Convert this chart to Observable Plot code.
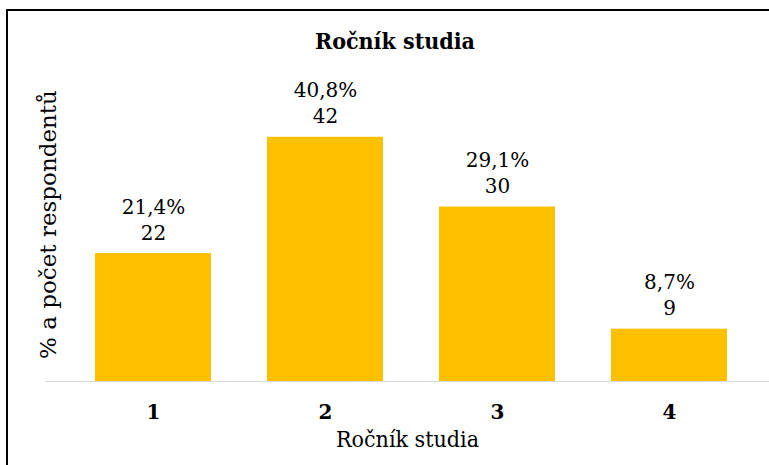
<!DOCTYPE html>
<html>
<head>
<meta charset="utf-8">
<script src="https://cdn.jsdelivr.net/npm/d3@7"></script>
<script src="https://cdn.jsdelivr.net/npm/@observablehq/plot@0.6"></script>
<style>
  html, body { margin: 0; padding: 0; background: #fff; width: 769px; height: 465px; overflow: hidden; }
  #wrap { position: relative; width: 769px; height: 465px; overflow: hidden; }
  #border { position: absolute; left: 6px; top: 9px; width: 777px; height: 470px; border: 2px solid #000; box-sizing: border-box; }
  #title { position: absolute; left: 0; top: 27px; width: 790px; text-align: center; font-family: "DejaVu Serif Condensed", "DejaVu Serif", serif; font-weight: bold; font-size: 23px; color: #000; }
  #chart { position: absolute; left: 0; top: 60px; }
  #chart svg { font-family: "DejaVu Serif", serif; }
  #chart [aria-label="x-axis tick label"] text { font-weight: bold; }
  #chart [aria-label="x-axis label"] text, #chart [aria-label="x-axis label"] { font-family: "DejaVu Serif Condensed", "DejaVu Serif", serif; font-size: 23px; }
  #chart [aria-label="y-axis label"] text, #chart [aria-label="y-axis label"] { font-size: 23px; }
</style>
</head>
<body>
<div id="wrap">
  <div id="border"></div>
  <div id="title">Ročník studia</div>
  <div id="chart"></div>
</div>
<script>
const categories = ["1", "2", "3", "4"];
const counts = [22, 42, 30, 9];
const percents = ["21,4%", "40,8%", "29,1%", "8,7%"];

const data = categories.map((c, i) => ({cat: c, count: counts[i], label: percents[i] + "\n" + counts[i]}));

const chart = Plot.plot({
  width: 769,
  height: 405,
  marginLeft: 45,
  marginRight: 0,
  marginTop: 7,
  marginBottom: 84,
  style: {fontFamily: "DejaVu Serif", fontSize: "20px", color: "#000", background: "transparent"},
  x: {domain: categories, range: [44, 777], paddingInner: 0.327, paddingOuter: 0.29},
  y: {domain: [0, 54]},
  marks: [
    Plot.barY(data, {x: "cat", y: "count", fill: "#FFC000"}),
    Plot.ruleY([0], {stroke: "#D9D9D9", strokeWidth: 1.2}),
    Plot.text(data, {x: "cat", y: "count", text: "label", lineAnchor: "bottom", dy: -14, lineHeight: 1.3, fontSize: 20, fill: "#000"}),
    Plot.axisX({tickSize: 0, tickPadding: 23, fontSize: 20, label: "Ročník studia", labelAnchor: "center", labelArrow: "none", labelOffset: 65}),
    Plot.axisY({ticks: [], tickSize: 0, label: "% a počet respondentů", labelAnchor: "center", labelArrow: "none", labelOffset: 6, fontSize: 23})
  ]
});
document.getElementById("chart").appendChild(chart);
</script>
</body>
</html>
